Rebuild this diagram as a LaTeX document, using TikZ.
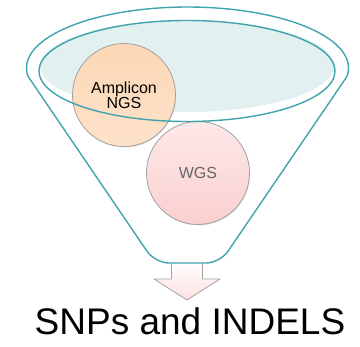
\documentclass[tikz,border=0pt]{standalone}
\usepackage{fontspec}
\setmainfont{Liberation Sans}
\usetikzlibrary{shadows}
\definecolor{funnelteal}{HTML}{3FA4AE}
\definecolor{funnelfill}{HTML}{E3F0F0}
\definecolor{bubbleline}{HTML}{A3A3A3}
\begin{document}
\begin{tikzpicture}[x=1pt,y=-1pt,
        rim/.style={draw=funnelteal, line width=1.4pt},
        bubble/.style={circle, draw=bubbleline, line width=0.8pt, minimum size=103pt, inner sep=0pt, align=center,
            font=\fontsize{16}{15}\selectfont, drop shadow={shadow xshift=0.6pt, shadow yshift=-1pt, opacity=0.25}}]
        \useasboundingbox (0,0) rectangle (360,347);

        % Result arrow
        \draw[draw=bubbleline, line width=0.8pt, top color=white, bottom color=red!12]
            (171.5,262) -- (202.5,262) -- (202.5,279) -- (220,279) -- (187,300) -- (154,279) -- (171.5,279) -- cycle;

        % Funnel body
        \draw[rim, fill=white] (28.1,76.5) arc[start angle=172, end angle=368, x radius=161, y radius=61]
            [rounded corners=14pt] -- (220,263) -- (155,263) [sharp corners] -- cycle;

        % Liquid surface
        \fill[funnelfill] (187,66) ellipse[x radius=147, y radius=46];

        % Bubbles
        \node[bubble, top color={rgb,255:red,253;green,215;blue,181}, middle color={rgb,255:red,251;green,200;blue,155},
            bottom color={rgb,255:red,253;green,226;blue,202}] (amplicon) at (124,95) {Amplicon\\NGS};
        \node[bubble, text=black!60, top color={rgb,255:red,253;green,232;blue,232},
            bottom color={rgb,255:red,250;green,208;blue,208}] (wgs) at (198,173) {WGS};

        % Inner rim
        \draw[rim] (187,71) ellipse[x radius=148, y radius=50.5];

        % Output label
        \node[anchor=base, inner sep=0pt] (result) at (190,335) {\fontsize{37}{40}\selectfont SNPs and INDELS};
\end{tikzpicture}
\end{document}
